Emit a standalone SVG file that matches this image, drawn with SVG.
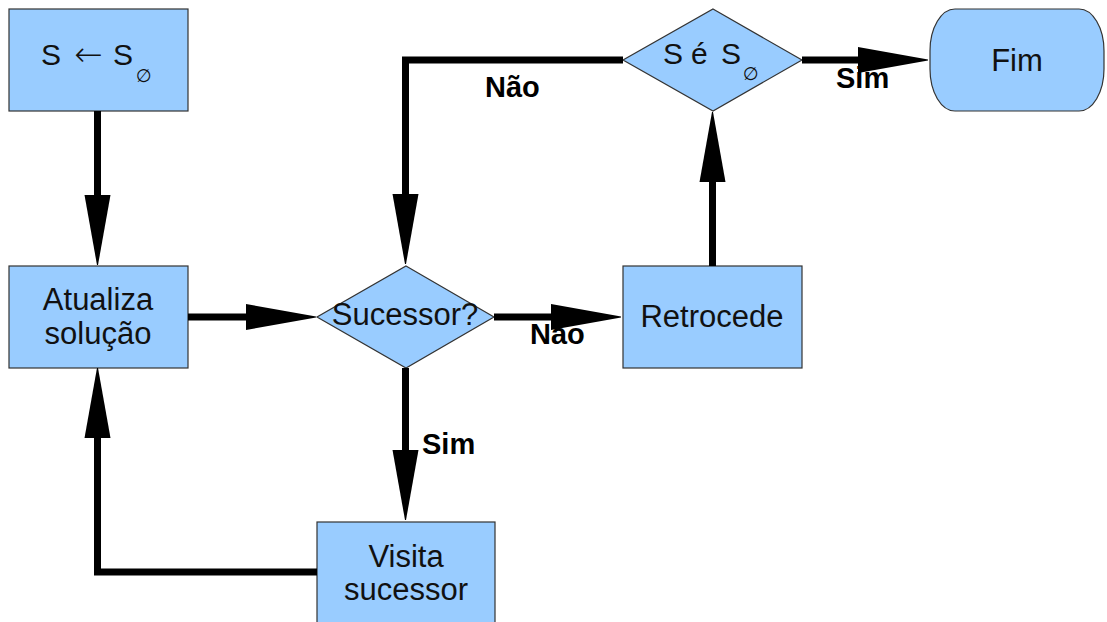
<svg xmlns="http://www.w3.org/2000/svg" width="1107" height="622" viewBox="0 0 1107 622">
  <style>
    .node { fill: #99ccff; stroke: #333333; stroke-width: 1.2; }
    .lbl { font-family: "Liberation Sans", Arial, sans-serif; font-size: 31px; fill: #111111; text-anchor: middle; }
    .sym { font-family: "Liberation Sans", Arial, sans-serif; font-size: 30px; fill: #111111; }
    .arr { font-family: "DejaVu Sans", sans-serif; font-size: 34px; font-weight: 300; }
    .sub { font-family: "DejaVu Sans", "Liberation Sans", sans-serif; font-size: 18px; fill: #111111; }
    .edge { fill: none; stroke: #000000; stroke-width: 7; stroke-linejoin: miter; marker-end: url(#head); }
    .elbl { font-family: "Liberation Sans", Arial, sans-serif; font-size: 29px; font-weight: bold; fill: #000000; }
  </style>
  <defs>
    <!-- long narrow arrowhead, anchored at its base so the shaft stops there -->
    <marker id="head" markerUnits="userSpaceOnUse" markerWidth="72" markerHeight="28" refX="0" refY="13" orient="auto" overflow="visible">
      <path d="M0,0 L70,12.5 L70,13.5 L0,26 Z" fill="#000000"/>
    </marker>
  </defs>
  <rect width="1107" height="622" fill="#ffffff"/>

  <g id="start">
    <rect class="node" x="9" y="9" width="179" height="102"/>
    <text class="sym" y="65"><tspan x="41">S</tspan><tspan class="arr" x="74" dy="1">←</tspan><tspan x="113" dy="-1">S</tspan></text>
    <text class="sub" x="136" y="82">∅</text>
  </g>

  <g id="atualiza">
    <rect class="node" x="9" y="266" width="179" height="102"/>
    <text class="lbl" x="98" y="310">Atualiza</text>
    <text class="lbl" x="98" y="344">solução</text>
  </g>

  <g id="sucessor">
    <polygon class="node" points="406,266 494,317 406,368 317,317"/>
    <text class="lbl" x="405" y="325">Sucessor?</text>
  </g>

  <g id="retrocede">
    <rect class="node" x="623" y="266" width="179" height="102"/>
    <text class="lbl" x="712" y="327">Retrocede</text>
  </g>

  <g id="teste">
    <polygon class="node" points="713,9 802,60 713,111 623,60"/>
    <text class="sym" y="64"><tspan x="663">S</tspan><tspan x="691">é</tspan><tspan x="721">S</tspan></text>
    <text class="sub" x="743" y="80">∅</text>
  </g>

  <g id="fim">
    <rect class="node" x="930" y="9" width="174" height="102" rx="25" ry="42"/>
    <text class="lbl" x="1017" y="71">Fim</text>
  </g>

  <g id="visita">
    <rect class="node" x="317" y="522" width="178" height="110"/>
    <text class="lbl" x="406" y="567">Visita</text>
    <text class="lbl" x="406" y="600">sucessor</text>
  </g>

  <g id="connectors">
    <text class="elbl" x="485" y="97">Não</text>
    <text class="elbl" x="530" y="344">Não</text>
    <text class="elbl" x="422" y="454">Sim</text>
    <text class="elbl" x="836" y="88">Sim</text>
    <path class="edge" d="M97.5,111 V195"/>
    <path class="edge" d="M188,317 H246"/>
    <path class="edge" d="M494,317 H551"/>
    <path class="edge" d="M712.5,266 V182"/>
    <path class="edge" d="M802,60 H858"/>
    <path class="edge" d="M623,60 H405.5 V194"/>
    <path class="edge" d="M405.5,368 V450"/>
    <path class="edge" d="M317,572 H97.5 V438"/>
  </g>
</svg>
